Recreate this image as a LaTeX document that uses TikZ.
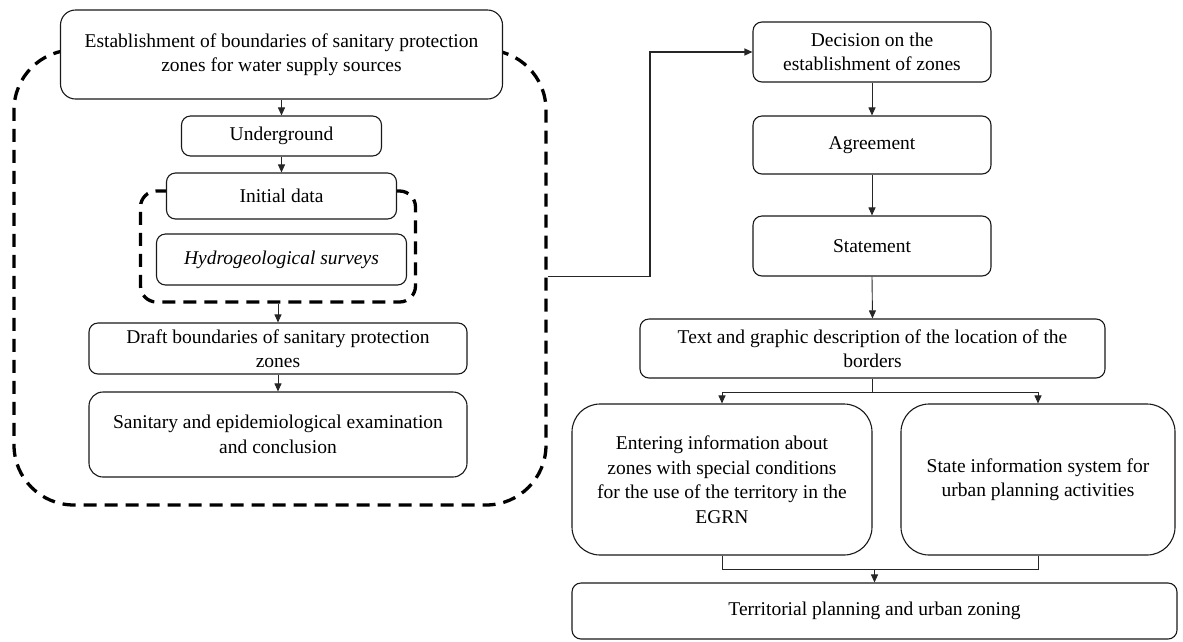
\documentclass[tikz,border=0pt]{standalone}
\usepackage{fontspec}
\setmainfont{Liberation Serif}
\usetikzlibrary{arrows.meta}
\begin{document}
\begin{tikzpicture}[x=1pt,y=-1pt,
  box/.style={draw=black!90, line width=1.1pt, fill=white, rounded corners=#1, inner sep=0pt, align=center,
    font=\fontsize{19.5}{24.5}\selectfont},
  box/.default=9pt,
  dashbox/.style={draw=black, line width=3.3pt, dash pattern=on 13pt off 8pt, rounded corners=#1, inner sep=0pt},
  arr/.style={draw=black!85, line width=0.9pt, -{Triangle[length=8pt,width=7pt]}},
  conn/.style={draw=black!85, line width=0.9pt}
]
\useasboundingbox (0,0) rectangle (1183,641);
% dashed groups (drawn first)
\node[dashbox=60pt, minimum width=532pt, minimum height=455pt] (outer) at (280,277.5) {};
\node[dashbox=16pt, minimum width=275pt, minimum height=111pt] (inner) at (278,246.5) {};
% left column
\node[box=15pt, minimum width=442pt, minimum height=89pt] (top) at (281.5,54.5)
  {Establishment of boundaries of sanitary protection\\zones for water supply sources};
\node[box, minimum width=200pt, minimum height=40pt] (ug) at (281.5,136) {Underground};
\node[box, minimum width=230pt, minimum height=46pt] (init) at (281.5,196) {Initial data};
\node[box, minimum width=250pt, minimum height=51pt] (hyd) at (281.5,259.5) {\itshape Hydrogeological surveys};
\node[box, minimum width=378pt, minimum height=51pt] (draft) at (278,348.5)
  {Draft boundaries of sanitary protection\\zones};
\node[box=14pt, minimum width=378pt, minimum height=85pt] (san) at (278,434.5)
  {Sanitary and epidemiological examination\\and conclusion};
% right column
\node[box, minimum width=238pt, minimum height=60pt] (dec) at (872,52)
  {Decision on the\\establishment of zones};
\node[box, minimum width=238pt, minimum height=58pt] (agr) at (872,145) {Agreement};
\node[box, minimum width=238pt, minimum height=60pt] (stm) at (872,246) {Statement};
\node[box, minimum width=465pt, minimum height=59pt] (txt) at (872.5,348.5)
  {Text and graphic description of the location of the\\borders};
\node[box=28pt, minimum width=300pt, minimum height=151pt] (ent) at (722,479.5)
  {Entering information about\\zones with special conditions\\for the use of the territory in the\\EGRN};
\node[box=28pt, minimum width=274pt, minimum height=151pt] (sis) at (1038,479.5)
  {State information system for\\urban planning activities};
\node[box, minimum width=605pt, minimum height=56pt] (ter) at (874.5,611)
  {Territorial planning and urban zoning};
% connectors left
\draw[arr] (top.south -| ug.north) -- (ug.north);
\draw[arr] (ug.south) -- (init.north);
\draw[arr] (inner.south) -- (draft.north);
\draw[arr] (draft.south) -- (san.north);
% connector to right
\coordinate (bend) at (650,150);
\draw[arr, line width=1.3pt] (outer.east |- stm.south) -| (bend) |- (dec.west);
% right connectors
\draw[arr] (dec.south) -- (agr.north);
\draw[arr] (agr.south) -- (stm.north);
\draw[arr] (stm.south) -- (txt.north);
\coordinate (br) at (872.5,392);
\draw[conn] (txt.south) -- (br);
\draw[arr] (br) -| (ent.north);
\draw[arr] (br) -| (sis.north);
\coordinate (mj) at (874.5,569);
\draw[conn] (ent.south) |- (mj) -| (sis.south);
\draw[arr] (mj) -- (ter.north);
\end{tikzpicture}
\end{document}
